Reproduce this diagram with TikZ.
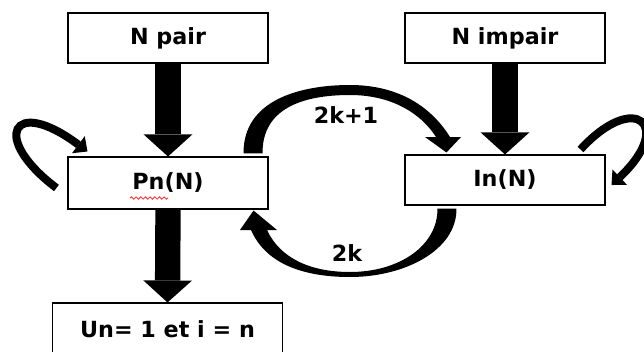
\documentclass[tikz,border=0pt]{standalone}
\usepackage{fontspec}
\setmainfont{DejaVu Sans}
\usetikzlibrary{arrows.meta,calc,decorations.pathmorphing}

\tikzset{every picture/.style={line width=0.75pt}}
\tikzset{
  boxnode/.style={draw, line width=0.8pt, inner sep=0pt, minimum width=150pt, minimum height=37.5pt, font=\fontsize{16.7}{20}\selectfont\bfseries},
  labelnode/.style={inner sep=0.75pt, font=\fontsize{16.7}{20}\selectfont\bfseries},
  bigarrow/.style={line width=19pt, -{Triangle[width=36.5pt,length=16.5pt,line width=0pt]}},
  loopline/.style={line width=6pt, -{Triangle[width=16pt,length=8.5pt,line width=0pt]}},
  curvearrow/.style={fill=black, draw=none},
}

\begin{document}
\begin{tikzpicture}[x=0.75pt,y=0.75pt,yscale=-1,xscale=1]
\useasboundingbox (0,0) rectangle (644,351);

% Text Node
\node[boxnode] (npair) at (168,38) {N pair};
% Text Node
\node[boxnode] (nimpair) at (505,38) {N impair};
% Text Node
\node[boxnode, minimum height=39pt] (pn) at (168,183) {Pn(N)};
% Text Node
\node[boxnode] (in) at (505,180) {In(N)};
% Text Node
\node[boxnode, minimum width=173pt, minimum height=39pt] (un) at (167.5,329) {Un= 1 et i = n};
% Text Node
\node[labelnode] (lblodd) at (346,115) {2k+1};
% Text Node
\node[labelnode] (lbleven) at (347,253) {2k};

%Straight Lines
\draw[bigarrow] (npair.south) -- (pn.north);
%Straight Lines
\draw[bigarrow] (nimpair.south) -- (in.north);
%Straight Lines
\draw[bigarrow] (pn.south) -- (un.north);

%Curve Lines
\fill[curvearrow] ($(pn.north east)+(-25,-3)$) .. controls (243,100) and (300,85) .. (350,85)
  .. controls (400,85) and (432,108) .. (450,137) -- (461,137) -- ($(in.north west)+(42,-2)$)
  -- (425,137) -- (436,137) .. controls (420,112) and (390,95) .. (350,95)
  .. controls (300,95) and (262,110) .. ($(pn.north east)+(-6,-3)$) -- cycle;
%Curve Lines
\fill[curvearrow] ($(in.south west)+(52,3)$) .. controls (457,250) and (405,277) .. (350,277)
  .. controls (300,277) and (265,262) .. (251,230) -- (240,230) -- ($(pn.south east)+(-15,1)$)
  -- (277,230) -- (267,230) .. controls (280,258) and (310,272) .. (350,272)
  .. controls (400,272) and (438,245) .. ($(in.south west)+(33,3)$) -- cycle;

%Curve Lines
\draw[loopline] ($(pn.west)+(-11,5)$) .. controls (-10,138) and (12,95) .. ($(pn.north west)+(20,-5)$);
%Curve Lines
\draw[loopline] ($(in.north east)+(-25,-5)$) .. controls (635,90) and (675,125) .. ($(in.east)+(6,5)$);

% spell check mark
\draw[red!75, line width=0.7pt, decorate, decoration={snake, amplitude=0.9pt, segment length=3.5pt}] ($(pn.center)+(-38,15)$) -- ($(pn.center)+(0,15)$);
\end{tikzpicture}
\end{document}
